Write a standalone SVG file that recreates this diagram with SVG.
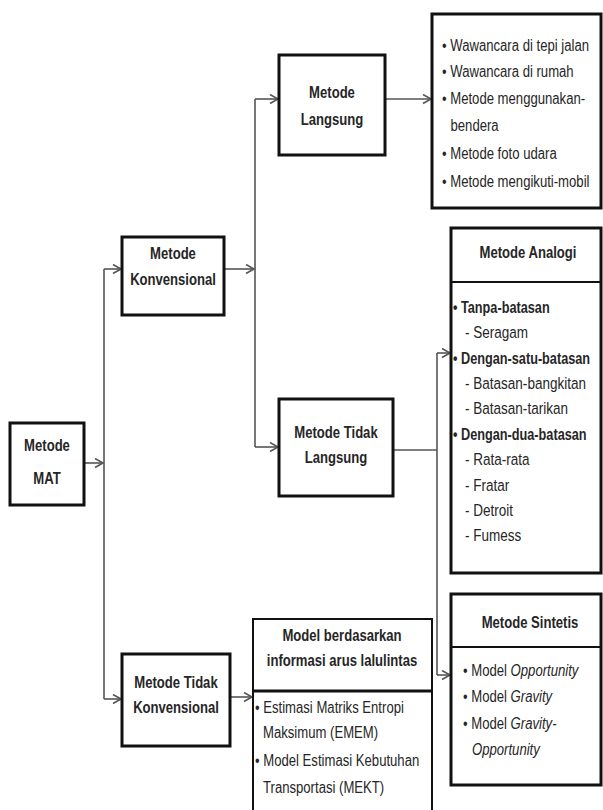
<svg xmlns="http://www.w3.org/2000/svg" width="603" height="810" viewBox="0 0 603 810">
<style>
.box{fill:#fff;stroke:#111;stroke-width:3}
.thin{fill:#fff;stroke:#111;stroke-width:2}
.div{stroke:#111;stroke-width:2;fill:none}
.div3{stroke:#111;stroke-width:3;fill:none}
.con{stroke:#555;stroke-width:1.6;fill:none}
.arr{stroke:#555;stroke-width:1.6;fill:none;marker-end:url(#ah)}
text{font-family:"Liberation Sans",Arial,sans-serif;fill:#262626}
.lbl{font-size:17px;font-weight:bold;text-anchor:middle}
.cat{font-size:16.5px;font-weight:bold}
.itm{font-size:16px}
.sub{font-size:16.5px}
.it{font-style:italic}
</style>
<defs>
<marker id="ah" markerUnits="userSpaceOnUse" markerWidth="12" markerHeight="12" refX="9" refY="5" orient="auto">
<path d="M1,0.5 L9,5 L1,9.5" fill="none" stroke="#555" stroke-width="1.6"/>
</marker>
</defs>

<g id="connectors">
<path class="arr" d="M84,463 H103"/>
<path class="con" d="M104,269 V699"/>
<path class="arr" d="M104,269 H121"/>
<path class="arr" d="M104,699 H121"/>
<path class="arr" d="M224,269 H254"/>
<path class="con" d="M255,99 V447"/>
<path class="arr" d="M255,99 H278"/>
<path class="arr" d="M255,447 H278"/>
<path class="arr" d="M385,99 H431"/>
<path class="con" d="M393,450 H437"/>
<path class="con" d="M437,353 V675"/>
<path class="arr" d="M437,353 H450"/>
<path class="arr" d="M437,675 H450"/>
<path class="arr" d="M230,697 H252"/>
</g>

<g id="node-mat">
<rect class="box" x="10" y="423" width="74" height="82"/>
<text class="lbl" transform="translate(47,451) scale(0.77,1)">Metode</text>
<text class="lbl" transform="translate(47,484) scale(0.77,1)">MAT</text>
</g>

<g id="node-konvensional">
<rect class="box" x="122" y="237" width="102" height="78"/>
<text class="lbl" transform="translate(173,259) scale(0.77,1)">Metode</text>
<text class="lbl" transform="translate(173,285) scale(0.77,1)">Konvensional</text>
</g>

<g id="node-langsung">
<rect class="box" x="279" y="55" width="106" height="100"/>
<text class="lbl" transform="translate(332,98) scale(0.77,1)">Metode</text>
<text class="lbl" transform="translate(332,125) scale(0.77,1)">Langsung</text>
</g>

<g id="node-tidak-langsung">
<rect class="box" x="279" y="399" width="114" height="97"/>
<text class="lbl" transform="translate(336,438) scale(0.77,1)">Metode Tidak</text>
<text class="lbl" transform="translate(336,463) scale(0.77,1)">Langsung</text>
</g>

<g id="node-tidak-konvensional">
<rect class="box" x="122" y="654" width="108" height="92"/>
<text class="lbl" transform="translate(176,688) scale(0.77,1)">Metode Tidak</text>
<text class="lbl" transform="translate(176,713) scale(0.77,1)">Konvensional</text>
</g>

<g id="node-langsung-list">
<rect class="box" x="432" y="14" width="169" height="194"/>
<text class="itm" transform="translate(442,50.5) scale(0.82,1)">• Wawancara di tepi jalan</text>
<text class="itm" transform="translate(442,77) scale(0.82,1)">• Wawancara di rumah</text>
<text class="itm" transform="translate(442,103.5) scale(0.82,1)">• Metode menggunakan-</text>
<text class="itm" transform="translate(450.5,130.5) scale(0.82,1)">bendera</text>
<text class="itm" transform="translate(442,158.5) scale(0.82,1)">• Metode foto udara</text>
<text class="itm" transform="translate(442,186.5) scale(0.82,1)">• Metode mengikuti-mobil</text>
</g>

<g id="node-analogi">
<rect class="box" x="451" y="228" width="150" height="345"/>
<line class="div" x1="451" y1="282" x2="601" y2="282"/>
<text class="lbl" transform="translate(528,258) scale(0.77,1)">Metode Analogi</text>
<text class="cat" transform="translate(453,312.5) scale(0.77,1)">• Tanpa-batasan</text>
<text class="sub" transform="translate(465,338) scale(0.82,1)">- Seragam</text>
<text class="cat" transform="translate(453,363.5) scale(0.77,1)">• Dengan-satu-batasan</text>
<text class="sub" transform="translate(465,389) scale(0.82,1)">- Batasan-bangkitan</text>
<text class="sub" transform="translate(465,414) scale(0.82,1)">- Batasan-tarikan</text>
<text class="cat" transform="translate(453,439.5) scale(0.77,1)">• Dengan-dua-batasan</text>
<text class="sub" transform="translate(465,465) scale(0.82,1)">- Rata-rata</text>
<text class="sub" transform="translate(465,490.5) scale(0.82,1)">- Fratar</text>
<text class="sub" transform="translate(465,516) scale(0.82,1)">- Detroit</text>
<text class="sub" transform="translate(465,541) scale(0.82,1)">- Fumess</text>
</g>

<g id="node-sintetis">
<rect class="box" x="451" y="594" width="150" height="191"/>
<line class="div" x1="451" y1="647" x2="601" y2="647"/>
<text class="lbl" transform="translate(530,628) scale(0.77,1)">Metode Sintetis</text>
<text class="itm" transform="translate(463,675.5) scale(0.82,1)">• Model <tspan class="it">Opportunity</tspan></text>
<text class="itm" transform="translate(463,702) scale(0.82,1)">• Model <tspan class="it">Gravity</tspan></text>
<text class="itm" transform="translate(463,728.5) scale(0.82,1)">• Model <tspan class="it">Gravity-</tspan></text>
<text class="itm it" transform="translate(472,755) scale(0.82,1)">Opportunity</text>
</g>

<g id="node-model-arus">
<rect class="thin" x="253" y="619" width="179" height="194"/>
<line class="div3" x1="253" y1="691" x2="432" y2="691"/>
<text class="lbl" transform="translate(342,641) scale(0.77,1)">Model berdasarkan</text>
<text class="lbl" transform="translate(342,666) scale(0.77,1)">informasi arus lalulintas</text>
<text class="itm" transform="translate(255,712.5) scale(0.82,1)">• Estimasi Matriks Entropi</text>
<text class="itm" transform="translate(263,738) scale(0.82,1)">Maksimum (EMEM)</text>
<text class="itm" transform="translate(255,765.5) scale(0.82,1)">• Model Estimasi Kebutuhan</text>
<text class="itm" transform="translate(263,792.5) scale(0.82,1)">Transportasi (MEKT)</text>
</g>
</svg>
